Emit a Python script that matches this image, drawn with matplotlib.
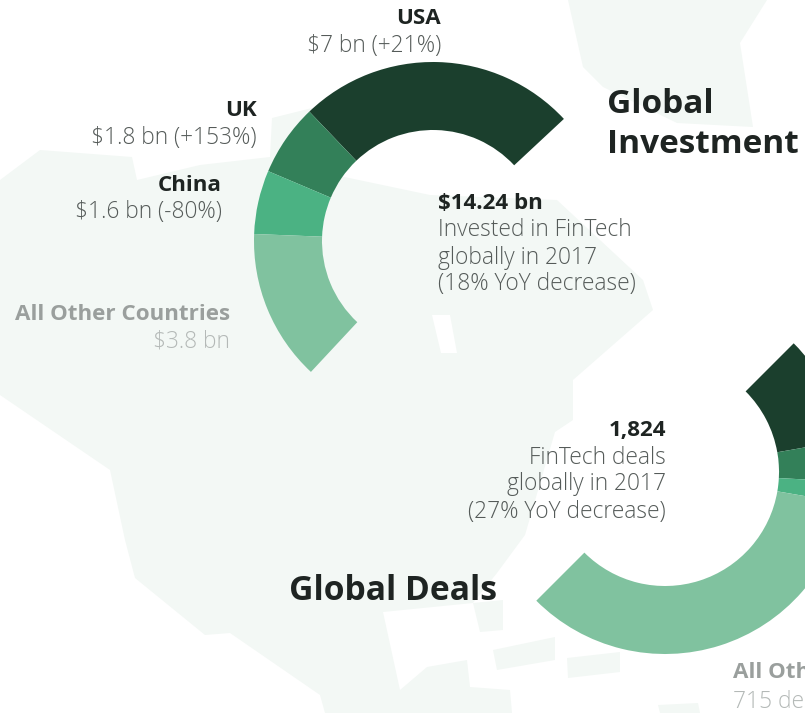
# FinTech 2017: global investment and global deals, two half rings over a pale map
import matplotlib
matplotlib.use('Agg')
import matplotlib.pyplot as plt
from matplotlib.patches import Polygon

plt.rcParams['font.family'] = ['Open Sans', 'DejaVu Sans']

W, H = 805, 713

# Investment, $ bn
countries = ['USA', 'UK', 'China', 'All Other Countries']
invest_values = [7, 1.8, 1.6, 3.8]
invest_notes = ['$7 bn (+21%)', '$1.8 bn (+153%)', '$1.6 bn (-80%)', '$3.8 bn']

# Deals, shares read from the arc (the labels of the first three are cut off in the picture)
deal_values = [355, 132, 68, 1269]

ring_colors = ['#1b3f2d', '#338059', '#4bb283', '#80c29f']

DARK = '#1e2422'
GREY = '#555b59'
PALE = '#f3f8f5'

fig = plt.figure(figsize=(W / 100, H / 100), dpi=100, facecolor='white')
ax = fig.add_axes([0, 0, 1, 1])


def ty(y):
    # picture rows run downwards
    return H - y


# pale map in the background
land = [
    [(0, 180), (40, 150), (132, 157), (137, 180), (200, 165), (270, 157), (272, 118), (312, 108),
     (335, 175), (430, 195), (557, 200), (643, 280), (653, 310), (573, 380), (573, 420), (555, 432),
     (525, 535), (497, 573), (473, 603), (383, 612), (400, 690), (427, 667), (467, 660), (470, 687),
     (510, 690), (512, 713), (325, 713), (320, 695), (230, 633), (205, 635), (135, 578), (125, 540),
     (110, 470), (0, 395)],
    [(568, 0), (767, 0), (740, 43), (753, 127), (677, 123), (603, 87), (583, 67)],
    [(473, 603), (503, 600), (503, 630), (480, 632)],
    [(493, 650), (555, 637), (555, 660), (497, 670)],
    [(567, 658), (620, 652), (620, 672), (568, 678)],
    [(658, 705), (698, 703), (700, 713), (660, 713)],
]
for pts in land:
    ax.add_patch(Polygon([(x, ty(y)) for x, y in pts], closed=True, fc=PALE, ec='none'))

# small white notch inside the first ring
ax.add_patch(Polygon([(x, ty(y)) for x, y in [(432, 315), (450, 315), (457, 353), (441, 353)]],
                     closed=True, fc='white', ec='none'))


def half_ring(values, center, radius, width, start, span, counterclock=True):
    # values take up only part of the circle, the rest stays empty
    fracs = [v / sum(values) * span / 360 for v in values]
    ax.pie(fracs, colors=ring_colors, center=center, radius=radius, startangle=start,
           counterclock=counterclock, normalize=False, frame=True,
           wedgeprops={'width': width, 'linewidth': 0})


half_ring(invest_values, (433, ty(241)), 179, 68, 43, 184)
half_ring(deal_values, (665, ty(472)), 182, 68, 45, 180, counterclock=False)

ax.set_xlim(0, W)
ax.set_ylim(0, H)
ax.set_aspect('auto')
ax.axis('off')


def label(x, y, s, size=16.4, color=GREY, weight='light', ha='right'):
    ax.text(x, ty(y + 1.5), s, fontsize=size, color=color, fontweight=weight, ha=ha, va='center')


BOLD = 16.1

# country labels
label(441, 17, countries[0], color=DARK, weight='bold', size=BOLD)
label(441, 45, invest_notes[0])
label(257, 109, countries[1], color=DARK, weight='bold', size=BOLD)
label(257, 136, invest_notes[1])
label(222, 184, countries[2], color=DARK, weight='bold', size=BOLD)
label(222, 211, invest_notes[2])
label(230, 313, countries[3], color='#9a9f9d', weight='bold', size=BOLD)
label(230, 340, invest_notes[3], color='#b4b9b7')

# totals
label(438, 202, '$14.24 bn', color=DARK, weight='bold', size=BOLD, ha='left')
label(438, 229, 'Invested in FinTech', ha='left')
label(438, 256, 'globally in 2017', ha='left')
label(438, 283, '(18% YoY decrease)', ha='left')

label(666, 429, '1,824', color=DARK, weight='bold', size=BOLD)
label(666, 456, 'FinTech deals')
label(666, 483, 'globally in 2017')
label(666, 510, '(27% YoY decrease)')

# headings
label(607, 103, 'Global', color=DARK, weight='bold', size=24, ha='left')
label(607, 143, 'Investment', color=DARK, weight='bold', size=24, ha='left')
label(289, 589, 'Global Deals', color=DARK, weight='bold', size=24.2, ha='left')

# cut off by the right edge in the picture
label(733, 671, 'All Other Countries', color='#9a9f9d', weight='bold', size=BOLD, ha='left')
label(733, 700, '715 deals', color='#b4b9b7', ha='left')

fig.savefig('out.png', dpi=100)
